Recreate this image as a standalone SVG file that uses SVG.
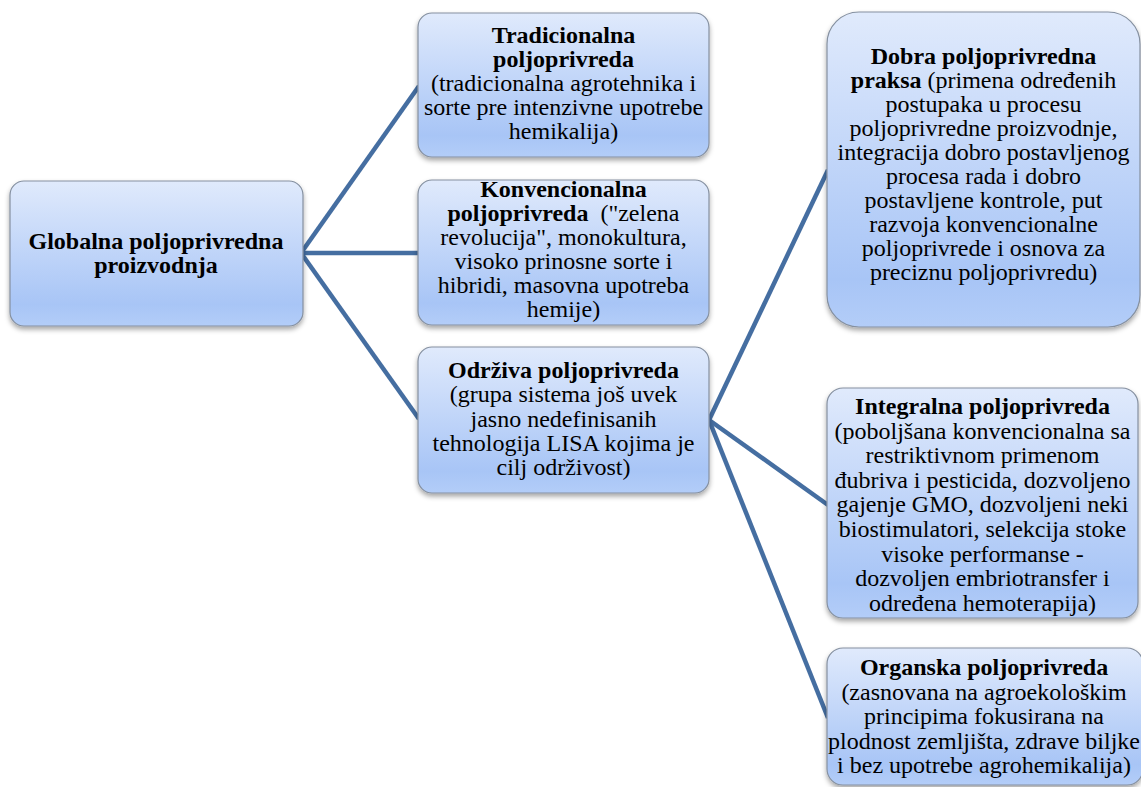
<svg xmlns="http://www.w3.org/2000/svg" width="1141" height="787" viewBox="0 0 1141 787">
  <defs>
    <linearGradient id="boxFill" x1="0" y1="0" x2="0" y2="1">
      <stop offset="0" stop-color="#e0eafc"/>
      <stop offset="0.85" stop-color="#a8c5f6"/>
      <stop offset="1" stop-color="#b3cdf8"/>
    </linearGradient>
    <filter id="shadow" x="-10%" y="-10%" width="120%" height="125%">
      <feDropShadow dx="0" dy="3" stdDeviation="2.5" flood-color="#000" flood-opacity="0.35"/>
    </filter>
  </defs>
  <style>
    .box { fill: url(#boxFill); stroke: #8590a0; stroke-width: 1.2; filter: url(#shadow); }
    .link { stroke: #456ea1; stroke-width: 4.5; fill: none; stroke-linecap: butt; stroke-linejoin: miter; }
    text { font-family: "Liberation Serif", "Times New Roman", serif; font-size: 24px; fill: #000; text-anchor: middle; }
    .b { font-weight: bold; }
  </style>

  <rect width="1141" height="787" fill="#ffffff"/>

  <!-- connectors -->
  <g id="connectors">
    <line class="link" x1="301" y1="253" x2="419" y2="86"/>
    <line class="link" x1="301" y1="253" x2="419" y2="253"/>
    <line class="link" x1="301" y1="253" x2="419" y2="419"/>
    <line class="link" x1="709" y1="420" x2="828" y2="170"/>
    <line class="link" x1="709" y1="420" x2="828" y2="505"/>
    <line class="link" x1="709" y1="420" x2="828" y2="718"/>
  </g>

  <!-- root -->
  <g id="globalna">
    <rect class="box" x="10" y="181" width="293" height="145" rx="14"/>
    <text class="b" x="156" y="249">Globalna poljoprivredna</text>
    <text class="b" x="156" y="273">proizvodnja</text>
  </g>

  <!-- second level -->
  <g id="tradicionalna">
    <rect class="box" x="418" y="13" width="291" height="144" rx="14"/>
    <text x="563.5" y="43"><tspan class="b">Tradicionalna</tspan></text>
    <text x="563.5" y="67"><tspan class="b">poljoprivreda</tspan></text>
    <text x="563.5" y="91">(tradicionalna agrotehnika i</text>
    <text x="563.5" y="115">sorte pre intenzivne upotrebe</text>
    <text x="563.5" y="139">hemikalija)</text>
  </g>

  <g id="konvencionalna">
    <rect class="box" x="418" y="180" width="291" height="145" rx="14"/>
    <text x="563.5" y="197"><tspan class="b">Konvencionalna</tspan></text>
    <text x="563.5" y="221"><tspan class="b">poljoprivreda</tspan>&#160; ("zelena</text>
    <text x="563.5" y="245">revolucija", monokultura,</text>
    <text x="563.5" y="269">visoko prinosne sorte i</text>
    <text x="563.5" y="293">hibridi, masovna upotreba</text>
    <text x="563.5" y="317">hemije)</text>
  </g>

  <g id="odrziva">
    <rect class="box" x="418" y="347" width="291" height="146" rx="14"/>
    <text x="563.5" y="378"><tspan class="b">Održiva poljoprivreda</tspan></text>
    <text x="563.5" y="402.3">(grupa sistema još uvek</text>
    <text x="563.5" y="426.6">jasno nedefinisanih</text>
    <text x="563.5" y="450.9">tehnologija LISA kojima je</text>
    <text x="563.5" y="475.2">cilj održivost)</text>
  </g>

  <!-- third level -->
  <g id="dobra">
    <rect class="box" x="827" y="12" width="313" height="315" rx="32"/>
    <text x="983.5" y="64"><tspan class="b">Dobra poljoprivredna</tspan></text>
    <text x="983.5" y="88"><tspan class="b">praksa</tspan> (primena određenih</text>
    <text x="983.5" y="112">postupaka u procesu</text>
    <text x="983.5" y="136">poljoprivredne proizvodnje,</text>
    <text x="983.5" y="160">integracija dobro postavljenog</text>
    <text x="983.5" y="184">procesa rada i dobro</text>
    <text x="983.5" y="208">postavljene kontrole, put</text>
    <text x="983.5" y="232">razvoja konvencionalne</text>
    <text x="983.5" y="256">poljoprivrede i osnova za</text>
    <text x="983.5" y="280">preciznu poljoprivredu)</text>
  </g>

  <g id="integralna">
    <rect class="box" x="827" y="388" width="311" height="230" rx="16"/>
    <text x="982.5" y="414"><tspan class="b">Integralna poljoprivreda</tspan></text>
    <text x="982.5" y="438.6">(poboljšana konvencionalna sa</text>
    <text x="982.5" y="463.2">restriktivnom primenom</text>
    <text x="982.5" y="487.8">đubriva i pesticida, dozvoljeno</text>
    <text x="982.5" y="512.4">gajenje GMO, dozvoljeni neki</text>
    <text x="982.5" y="537">biostimulatori, selekcija stoke</text>
    <text x="982.5" y="561.6">visoke performanse -</text>
    <text x="982.5" y="586.2">dozvoljen embriotransfer i</text>
    <text x="982.5" y="610.8">određena hemoterapija)</text>
  </g>

  <g id="organska">
    <rect class="box" x="827" y="648" width="316" height="137" rx="16"/>
    <text x="984" y="675"><tspan class="b">Organska poljoprivreda</tspan></text>
    <text x="984" y="699.5">(zasnovana na agroekološkim</text>
    <text x="984" y="724">principima fokusirana na</text>
    <text x="984" y="748.5">plodnost zemljišta, zdrave biljke</text>
    <text x="984" y="773">i bez upotrebe agrohemikalija)</text>
  </g>
</svg>
